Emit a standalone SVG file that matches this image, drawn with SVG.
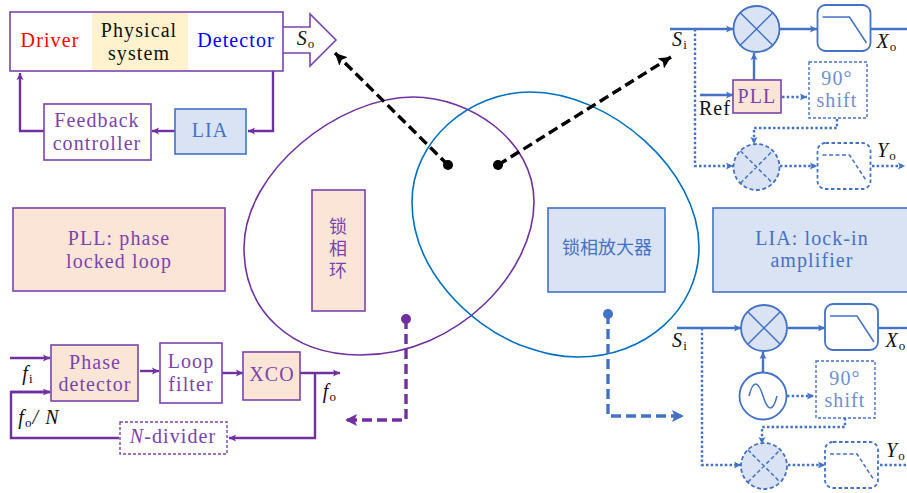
<svg xmlns="http://www.w3.org/2000/svg" width="907" height="493" viewBox="0 0 907 493">
<style>
text{font-family:"Liberation Serif","Noto Sans CJK SC",serif;font-size:20px;text-anchor:middle;letter-spacing:1.1px}
.cjk{font-family:"Noto Sans CJK SC",sans-serif;font-size:18px;letter-spacing:0}
.vert{writing-mode:vertical-rl;letter-spacing:4px}
.p{fill:#7b44ad}.b{fill:#4472c4}.k{fill:#111}
.i{font-style:italic}
.sub{font-size:13px}
.box{stroke-width:1.6}
.pl{stroke:#7030a0;fill:none;stroke-width:2.4}
.bl{stroke:#4472c4;fill:none;stroke-width:2.4}
.dot{stroke-dasharray:2.500 2.200}
.pf{fill:#fbe5d6;stroke:#7b44ad}
.bf{fill:#dae3f3;stroke:#4472c4}
.wp{fill:#fff;stroke:#7b44ad}
.wb{fill:#fff;stroke:#4472c4}
</style>
<defs>
<marker id="ap" markerWidth="10" markerHeight="8" refX="7" refY="4" orient="auto" markerUnits="userSpaceOnUse"><path d="M0,0.5L7,4L0,7.5L1.5,4Z" fill="#7030a0"/></marker>
<marker id="ab" markerWidth="10" markerHeight="8" refX="7" refY="4" orient="auto" markerUnits="userSpaceOnUse"><path d="M0,0.5L7,4L0,7.5L1.5,4Z" fill="#4472c4"/></marker>
<marker id="ak" markerWidth="14" markerHeight="14" refX="12" refY="7" orient="auto" markerUnits="userSpaceOnUse"><path d="M0,1L12,7L0,13L2.500,7Z" fill="#000"/></marker>
<marker id="apl" markerWidth="14" markerHeight="14" refX="12" refY="7" orient="auto" markerUnits="userSpaceOnUse"><path d="M0,1L12,7L0,13L2.500,7Z" fill="#7030a0"/></marker>
<marker id="abl" markerWidth="14" markerHeight="14" refX="12" refY="7" orient="auto" markerUnits="userSpaceOnUse"><path d="M0,1L12,7L0,13L2.500,7Z" fill="#4472c4"/></marker>
<g id="mix"><circle r="23" class="bf" stroke-width="1.8"/><path d="M-16,-16L16,16M-16,16L16,-16" stroke="#4472c4" stroke-width="1.5"/></g>
<g id="mixd"><circle r="23" class="bf" stroke-width="1.8" stroke-dasharray="4 2.5"/><path d="M-16,-16L16,16M-16,16L16,-16" stroke="#4472c4" stroke-width="1.5" stroke-dasharray="4 2.5"/></g>
<g id="lpf"><rect width="53" height="46" rx="8" fill="#fff" stroke="#4472c4" stroke-width="1.8"/><path d="M5,12H32L49,38" fill="none" stroke="#4472c4" stroke-width="1.5"/></g>
<g id="lpfd"><rect width="53" height="46" rx="8" fill="#fff" stroke="#4472c4" stroke-width="1.8" stroke-dasharray="3.5 2.5"/><path d="M5,12H32L49,38" fill="none" stroke="#4472c4" stroke-width="1.5" stroke-dasharray="4 2.5"/></g>
</defs>

<g id="venn" fill="none" stroke-width="1.6">
<path id="venn-pll" d="M413,97C470,97 534,140 534,202C534,270 460,355 360,355C290,355 244,310 244,248C244,170 340,97 413,97Z" stroke="#7030a0"/>
<path id="venn-lia" d="M530,92C470,92 412,140 412,202C412,270 470,325 520,345C545,354 560,357 578,357C645,357 699,310 699,247C699,170 610,92 530,92Z" stroke="#0070c0"/>
</g>

<g id="connectors">
<g fill="none">
<path d="M283,27H310V14L336,40L310,66V53H283" fill="#fff" stroke="#7b44ad" stroke-width="1.6"/>
<path class="pl" d="M273,71V131H248" marker-end="url(#ap)"/>
<path class="pl" d="M175,131H152" marker-end="url(#ap)"/>
<path class="pl" d="M44,131H20V73" marker-end="url(#ap)"/>
<path class="pl" d="M10,358H50" marker-end="url(#ap)"/>
<path class="pl" d="M50,392H11V438H119"/>
<path class="pl" d="M11,392H50" marker-end="url(#ap)"/>
<path class="pl" d="M140,371H159" marker-end="url(#ap)"/>
<path class="pl" d="M222,373H243" marker-end="url(#ap)"/>
<path class="pl" d="M300,373H340" marker-end="url(#ap)"/>
<path class="pl" d="M315,373V438H229" marker-end="url(#ap)"/>

<path d="M448,165L335,53" stroke="#000" stroke-width="3.400" stroke-dasharray="10 5" marker-end="url(#ak)"/>
<path d="M498,165L671,57" stroke="#000" stroke-width="3.400" stroke-dasharray="10 5" marker-end="url(#ak)"/>
<path d="M406,319V420H345" stroke="#7030a0" stroke-width="3.400" stroke-dasharray="10 5" marker-end="url(#apl)"/>
<path d="M608,314V416H684" stroke="#4472c4" stroke-width="3.400" stroke-dasharray="10 5" marker-end="url(#abl)"/>

<path class="bl" d="M670,29H733" marker-end="url(#ab)"/>
<path class="bl" d="M780,29H817" marker-end="url(#ab)"/>
<path class="bl" d="M871,29H907"/>
<path class="bl" stroke-width="3" d="M754,80V53" marker-end="url(#ab)"/>
<path class="bl" d="M700,95H733" marker-end="url(#ab)"/>
<path class="bl dot" d="M695,29V166H733" marker-end="url(#ab)"/>
<path class="bl dot" d="M782,97H807" marker-end="url(#ab)"/>
<path class="bl dot" d="M837,119V128H754V144" marker-end="url(#ab)"/>
<path class="bl dot" d="M780,166H817" marker-end="url(#ab)"/>
<path class="bl dot" d="M872,166H905" marker-end="url(#ab)"/>

<path class="bl" d="M677,328H741" marker-end="url(#ab)"/>
<path class="bl" d="M788,328H825" marker-end="url(#ab)"/>
<path class="bl" d="M879,328H907"/>
<path class="bl" stroke-width="3" d="M763,372V352" marker-end="url(#ab)"/>
<path class="bl dot" d="M702,328V465H741" marker-end="url(#ab)"/>
<path class="bl dot" d="M787,396H814" marker-end="url(#ab)"/>
<path class="bl dot" d="M845,418V427H762V444" marker-end="url(#ab)"/>
<path class="bl dot" d="M788,465H825" marker-end="url(#ab)"/>
<path class="bl dot" d="M880,465H907"/>
</g>
<circle cx="448" cy="165" r="5" fill="#000"/>
<circle cx="498" cy="165" r="5" fill="#000"/>
<circle cx="406" cy="319" r="5" fill="#7030a0"/>
<circle cx="608" cy="314" r="5" fill="#4472c4"/>
</g>

<g id="main-box">
<rect x="10" y="12" width="273" height="59" fill="#fff" stroke="#7b44ad" stroke-width="1.6"/>
<rect x="92" y="13" width="96" height="57" fill="#fff2cc"/>
<text x="50" y="47" fill="#ff0000">Driver</text>
<text x="139" y="37" class="k">Physical</text>
<text x="139" y="60" class="k">system</text>
<text x="236" y="47" fill="#0000ff">Detector</text>
</g>
<g id="so"><text x="306" y="45" class="k i">S<tspan class="sub" font-style="normal" dy="3">o</tspan></text></g>
<g id="feedback"><rect x="44" y="104" width="107" height="56" class="wp box"/><text x="97" y="127" class="p">Feedback</text><text x="97" y="150" class="p">controller</text></g>
<g id="lia-small"><rect x="175" y="109" width="71" height="45" class="bf box"/><text x="210" y="137" class="b">LIA</text></g>

<g id="pll-def"><rect x="13" y="208" width="212" height="83" class="pf box"/><text x="119" y="245" class="p">PLL: phase</text><text x="119" y="268" class="p">locked loop</text></g>
<g id="pll-cn"><rect x="312" y="190" width="53" height="121" class="pf box"/><text x="338" y="250" class="cjk vert p">锁相环</text></g>
<g id="lia-cn"><rect x="548" y="208" width="117" height="84" class="bf box"/><text x="607" y="254" class="cjk b">锁相放大器</text></g>
<g id="lia-def"><rect x="713" y="208" width="200" height="84" class="bf box"/><text x="812" y="245" class="b">LIA: lock-in</text><text x="812" y="267" class="b">amplifier</text></g>

<g id="phase-detector"><rect x="51" y="345" width="87" height="56" class="pf box"/><text x="95" y="369" class="p">Phase</text><text x="95" y="391" class="p">detector</text></g>
<g id="loop-filter"><rect x="160" y="343" width="62" height="60" class="wp box"/><text x="191" y="368" class="p">Loop</text><text x="191" y="391" class="p">filter</text></g>
<g id="xco"><rect x="243" y="352" width="57" height="48" class="pf box"/><text x="272" y="381" class="p">XCO</text></g>
<g id="n-divider"><rect x="120" y="422" width="107" height="32" fill="#fff" stroke="#7b44ad" stroke-width="1.4" stroke-dasharray="3 2"/><text x="173" y="443" class="p"><tspan class="i">N</tspan>-divider</text></g>
<g id="lbl-fi"><text x="28" y="380" class="k i">f<tspan class="sub" font-style="normal" dy="3">i</tspan></text></g>
<g id="lbl-fon"><text x="39" y="424" class="k i">f<tspan class="sub" font-style="normal" dy="3">o</tspan><tspan dy="-3">/ N</tspan></text></g>
<g id="lbl-fo"><text x="330" y="398" class="k i">f<tspan class="sub" font-style="normal" dy="3">o</tspan></text></g>

<g id="top-mixer"><use href="#mix" x="756.500" y="29"/></g>
<g id="top-lpf"><use href="#lpf" x="817.500" y="5"/></g>
<g id="pll-small"><rect x="733" y="80" width="48" height="33" class="pf box"/><text x="757" y="103" class="p">PLL</text></g>
<g id="top-shift"><rect x="809" y="62" width="58" height="56" fill="#fff" stroke="#4472c4" stroke-width="1.4" stroke-dasharray="3 2"/><text x="837" y="85" fill="#6f8fd0">90°</text><text x="837" y="107" fill="#6f8fd0">shift</text></g>
<g id="top-mixer-d"><use href="#mixd" x="756.500" y="167"/></g>
<g id="top-lpf-d"><use href="#lpfd" x="817.500" y="143"/></g>
<g id="top-labels">
<text x="680" y="46" class="k i">S<tspan class="sub" font-style="normal" dy="3">i</tspan></text>
<text x="715" y="115" class="k">Ref</text>
<text x="887" y="48" class="k i">X<tspan class="sub" font-style="normal" dy="3">o</tspan></text>
<text x="887" y="157" class="k i">Y<tspan class="sub" font-style="normal" dy="3">o</tspan></text>
</g>

<g id="bot-mixer"><use href="#mix" x="764" y="328"/></g>
<g id="bot-lpf"><use href="#lpf" x="825" y="304"/></g>
<g id="osc"><circle cx="763" cy="396" r="23.500" fill="#fff" stroke="#4472c4" stroke-width="1.8"/><path d="M749,396C753,380 758,380 763,396C768,412 773,412 777,396" fill="none" stroke="#4472c4" stroke-width="1.5"/></g>
<g id="bot-shift"><rect x="816" y="361" width="59" height="57" fill="#fff" stroke="#4472c4" stroke-width="1.4" stroke-dasharray="3 2"/><text x="845" y="385" fill="#6f8fd0">90°</text><text x="845" y="407" fill="#6f8fd0">shift</text></g>
<g id="bot-mixer-d"><use href="#mixd" x="764" y="466"/></g>
<g id="bot-lpf-d"><use href="#lpfd" x="825" y="442"/></g>
<g id="bot-labels">
<text x="680" y="347" class="k i">S<tspan class="sub" font-style="normal" dy="3">i</tspan></text>
<text x="896" y="347" class="k i">X<tspan class="sub" font-style="normal" dy="3">o</tspan></text>
<text x="896" y="457" class="k i">Y<tspan class="sub" font-style="normal" dy="3">o</tspan></text>
</g>
</svg>
